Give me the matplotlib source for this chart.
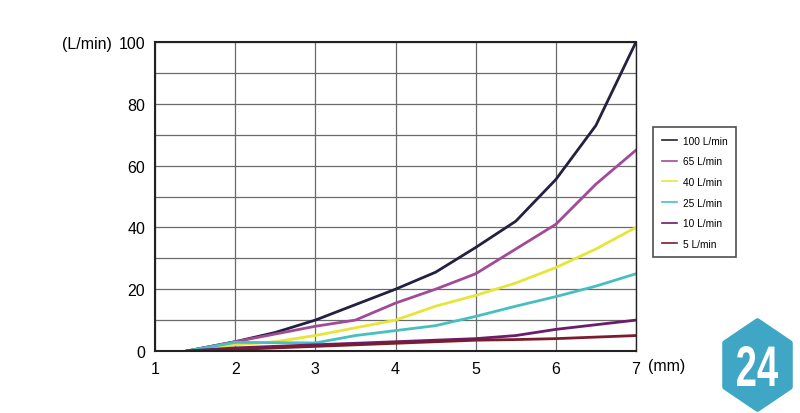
import matplotlib.pyplot as plt
from matplotlib.patches import Polygon, PathPatch
from matplotlib.textpath import TextPath
from matplotlib.font_manager import FontProperties
from matplotlib.transforms import Affine2D

plt.rcParams["font.family"] = ["Liberation Sans", "DejaVu Sans"]

# Дані
x = [1.4, 2, 2.5, 3, 3.5, 4, 4.5, 5, 5.5, 6, 6.5, 7]
flow_100 = [0, 3, 6, 10, 15, 20, 25.5, 33.5, 42, 55.5, 73, 100]
flow_65 = [0, 3, 5.5, 8, 10, 15.5, 20, 25, 33, 41, 54, 65]
flow_40 = [0, 2, 3, 5, 7.5, 10, 14.5, 18, 22, 27, 33, 40]
flow_25 = [0, 2.8, 2.7, 2.6, 5, 6.6, 8.2, 11.2, 14.5, 17.6, 21, 25]
flow_10 = [0, 1, 1.5, 2, 2.5, 3, 3.5, 4, 5, 7, 8.5, 10]
flow_5 = [0, 0.5, 1, 1.5, 2, 2.5, 3, 3.5, 3.7, 4, 4.5, 5]

labels = ["100 L/min", "65 L/min", "40 L/min", "25 L/min", "10 L/min", "5 L/min"]
series = [flow_100, flow_65, flow_40, flow_25, flow_10, flow_5]
colors = ["#23213f", "#a24a98", "#e6e639", "#47bfc0", "#6b1c6b", "#7a1c2c"]

W, H = 800, 414
fig = plt.figure(figsize=(8, 4.14), dpi=100)
ax = fig.add_axes([155 / W, 1 - 352 / H, 481 / W, 309 / H])

for y, c, lab in zip(series, colors, labels):
    ax.plot(x, y, color=c, linewidth=2, label=lab)

ax.set_xlim(1, 7)
ax.set_ylim(0, 100)
ax.set_xticks(range(1, 8))
ax.set_yticks(range(0, 101, 20))
ax.set_yticks(range(0, 101, 10), minor=True)
ax.tick_params(axis="both", which="both", length=0, labelsize=11.5, pad=7)
ax.grid(True, which="both", color="#6a6a6a", linewidth=0.9)
ax.set_axisbelow(True)
for s in ax.spines.values():
    s.set_linewidth(1.5)
    s.set_color("#222222")
ax.spines["right"].set_linewidth(1)

fig.text(62 / W, 1 - 44 / H, "(L/min)", fontsize=11.5, va="center", ha="left")
fig.text(648 / W, 1 - 367 / H, "(mm)", fontsize=11.5, va="center", ha="left")

leg = fig.legend(loc="upper left", bbox_to_anchor=(653 / W, 1 - 128 / H),
                 fontsize=7.3, frameon=True, fancybox=False, handlelength=1.5,
                 handletextpad=0.6, labelspacing=1.05, borderpad=0.85,
                 borderaxespad=0)
leg.get_frame().set_edgecolor("#222222")
leg.get_frame().set_linewidth(1.2)
for line in leg.get_lines():
    line.set_linewidth(1.2)

# Логотип
hex_px = [(757.5, 322), (790, 344), (790, 388), (757.5, 410), (725, 388), (725, 344)]
hex_fig = [(px / W, 1 - py / H) for px, py in hex_px]
logo = Polygon(hex_fig, closed=True, transform=fig.transFigure,
               facecolor="#3fa6c5", edgecolor="#3fa6c5",
               joinstyle="round", linewidth=4)
fig.patches.append(logo)

# "24" вузьким шрифтом: стискаємо контур тексту по ширині
tp = TextPath((0, 0), "24", size=50,
              prop=FontProperties(family="Liberation Sans", weight="bold"))
bb = tp.get_extents()
sx = 41 / bb.width
sy = 40 / bb.height
tr = (Affine2D().translate(-bb.x0, -bb.y0).scale(sx, sy)
      .translate(737 / W * fig.bbox.width, (H - 387) / H * fig.bbox.height))
fig.patches.append(PathPatch(tr.transform_path(tp), facecolor="white",
                             edgecolor="none", transform=None))

fig.savefig("out.png", dpi=100)
